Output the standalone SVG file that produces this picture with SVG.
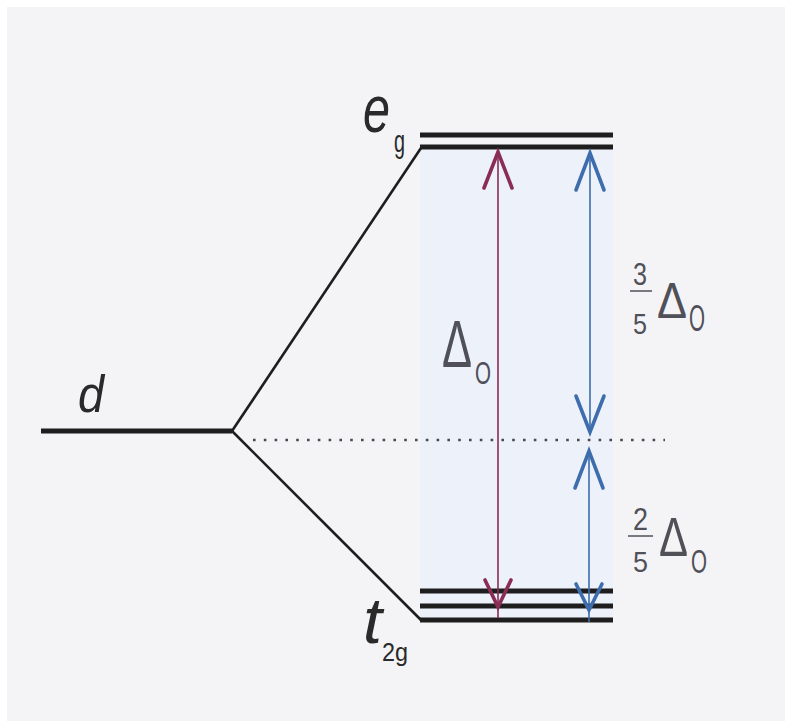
<svg xmlns="http://www.w3.org/2000/svg" width="785" height="721" viewBox="0 0 785 721">
<style>
.lvl{stroke:#1e1e1e;stroke-width:5;fill:none;stroke-linecap:butt}
.diag{stroke:#1e1e1e;stroke-width:2.6;fill:none}
.lbl{font-family:"Liberation Sans",Arial,sans-serif;fill:#2a2a2a}
.it{font-style:italic}
.dl{font-family:"Liberation Sans",Arial,sans-serif;fill:#505058}
.mar{stroke:#8a2c55;fill:none}
.blu{stroke:#3e6dad;fill:none}
.shaft{stroke-width:1.6}
.head{stroke-width:3.6;stroke-linejoin:miter;stroke-linecap:round}
.bar{stroke:#505058;stroke-width:1.5}
</style>
<rect x="0" y="0" width="785" height="721" fill="#ffffff"/>
<rect x="7" y="7" width="778" height="714" fill="#f4f4f7"/>
<rect x="420" y="147" width="193" height="473" fill="#ecf1fa"/>

<g id="d-level">
  <line class="lvl" x1="41" y1="431" x2="232" y2="431"/>
  <text class="lbl it" x="78" y="412" font-size="52" textLength="26" lengthAdjust="spacingAndGlyphs">d</text>
</g>

<g id="eg-level">
  <line class="lvl" x1="420" y1="135" x2="613" y2="135"/>
  <line class="lvl" x1="420" y1="147" x2="613" y2="147"/>
  <text class="lbl it" x="363" y="132" font-size="66" textLength="27" lengthAdjust="spacingAndGlyphs">e</text>
  <text class="lbl" x="394" y="152" font-size="32" textLength="11" lengthAdjust="spacingAndGlyphs">g</text>
</g>

<g id="t2g-level">
  <line class="lvl" x1="420" y1="591" x2="613" y2="591"/>
  <line class="lvl" x1="420" y1="606" x2="613" y2="606"/>
  <line class="lvl" x1="420" y1="620" x2="613" y2="620"/>
  <text class="lbl it" x="363" y="643" font-size="64" textLength="19" lengthAdjust="spacingAndGlyphs">t</text>
  <text class="lbl" x="382" y="661" font-size="26" textLength="26" lengthAdjust="spacingAndGlyphs">2g</text>
</g>

<g id="barycenter">
  <line x1="253" y1="440" x2="665" y2="440" stroke="#4a4a52" stroke-width="2.6" stroke-dasharray="2.6 8.2"/>
</g>

<g id="label-delta">
  <text class="dl" x="442" y="367" font-size="66" textLength="30" lengthAdjust="spacingAndGlyphs">Δ</text>
  <text class="dl" x="475" y="384" font-size="32" textLength="16" lengthAdjust="spacingAndGlyphs">O</text>
</g>

<g id="label-35">
  <text class="dl" x="633" y="285" font-size="31" textLength="14" lengthAdjust="spacingAndGlyphs">3</text>
  <line class="bar" x1="630" y1="291" x2="652" y2="291"/>
  <text class="dl" x="633" y="334" font-size="29" textLength="14" lengthAdjust="spacingAndGlyphs">5</text>
  <text class="dl" x="657" y="318" font-size="50" textLength="30" lengthAdjust="spacingAndGlyphs">Δ</text>
  <text class="dl" x="689" y="331" font-size="36" textLength="16" lengthAdjust="spacingAndGlyphs">O</text>
</g>

<g id="label-25">
  <text class="dl" x="633" y="530" font-size="31" textLength="15" lengthAdjust="spacingAndGlyphs">2</text>
  <line class="bar" x1="628" y1="536" x2="653" y2="536"/>
  <text class="dl" x="633" y="572" font-size="29" textLength="15" lengthAdjust="spacingAndGlyphs">5</text>
  <text class="dl" x="659" y="556" font-size="56" textLength="29" lengthAdjust="spacingAndGlyphs">Δ</text>
  <text class="dl" x="691" y="573" font-size="34" textLength="16" lengthAdjust="spacingAndGlyphs">O</text>
</g>

<g id="connectors">
  <line class="diag" x1="232" y1="431" x2="421" y2="148"/>
  <line class="diag" x1="232" y1="431" x2="421" y2="620"/>

  <line class="mar shaft" x1="498" y1="151" x2="498" y2="618"/>
  <polyline class="mar head" points="484,188 498,152 512,188"/>
  <polyline class="mar head" points="485,580 498,607 511,580"/>

  <line class="blu shaft" x1="590" y1="152" x2="590" y2="432"/>
  <polyline class="blu head" points="576,190 590,153 604,190"/>
  <polyline class="blu head" points="576,396 590,432 604,396"/>

  <line class="blu shaft" x1="589" y1="450" x2="589" y2="622"/>
  <polyline class="blu head" points="575,488 589,451 603,488"/>
  <polyline class="blu head" points="576,584 589,610 602,584"/>
</g>
</svg>
